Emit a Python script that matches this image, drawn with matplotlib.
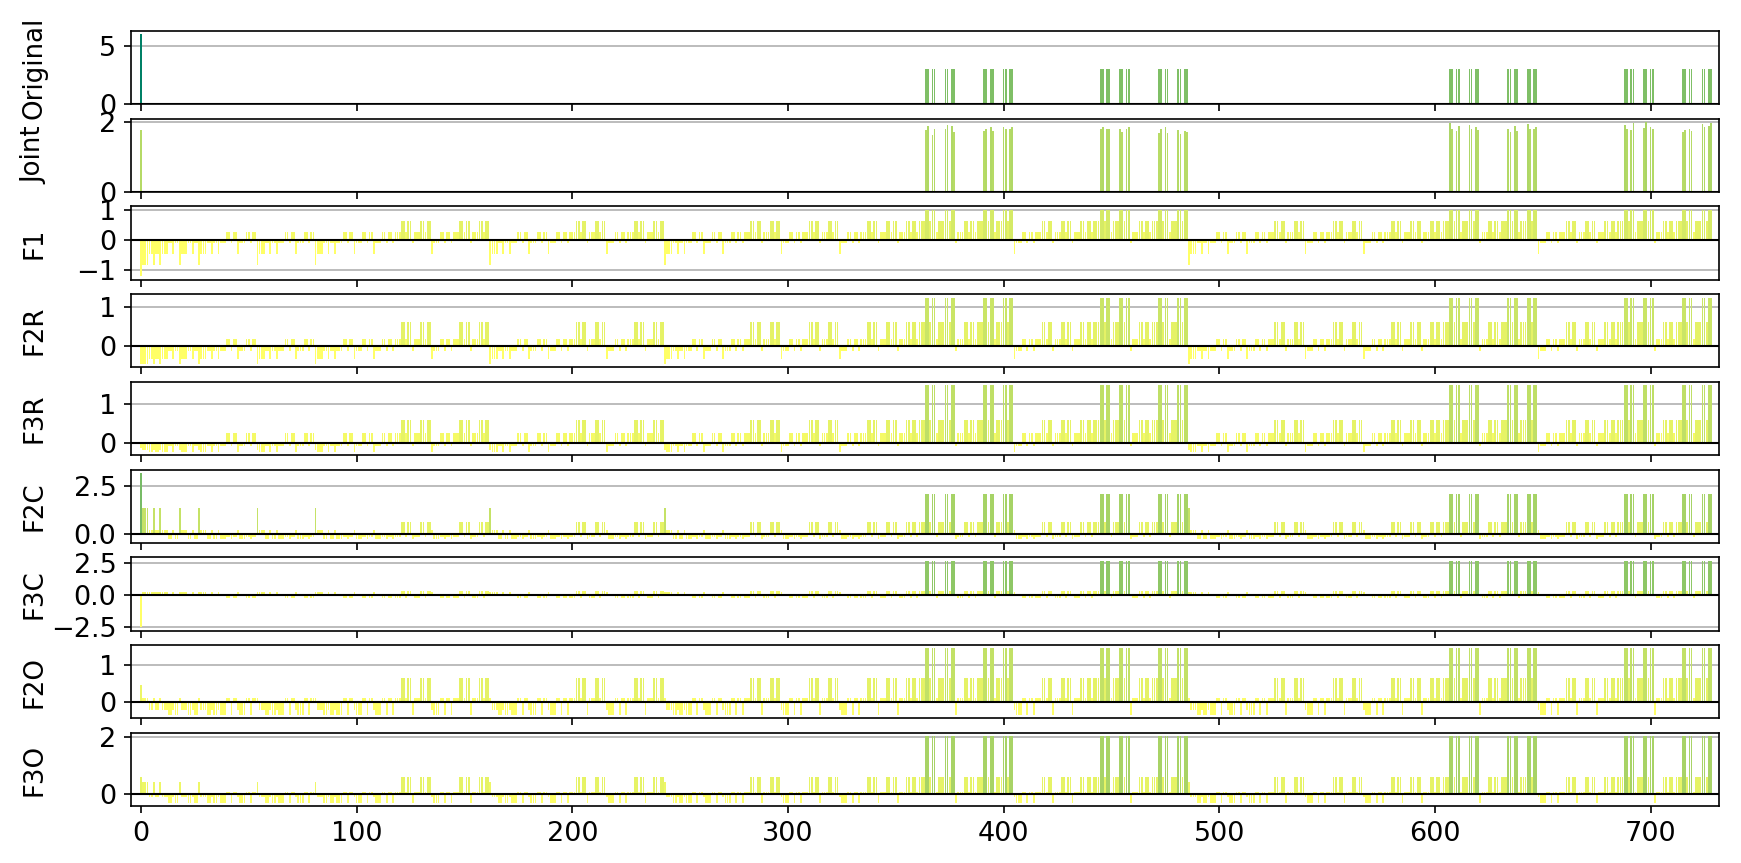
import numpy as np
import matplotlib
matplotlib.use("Agg")
import matplotlib.pyplot as plt
from matplotlib.colors import Normalize

# ---------------------------------------------------------------------------
# Data.
# Every day (0..728) falls in one of 7 bar-height classes (0..6); the class of
# each day, 27 days per row, as read from the repeating spike structure.
DAY_CLASS_ROWS = [
    "011122122122233233122233233",
    "122233233233344344233344344",
    "122233233233344344233344344",
    "122233233233344344233344344",
    "233344344344455455344455455",
    "233344344344455455344455455",
    "122233233233344344233344344",
    "233344344344455455344455455",
    "233344344344455455344455455",
    "122233233233344344233344344",
    "233344344344455455344455455",
    "233344344344455455344455455",
    "233344344344455455344455455",
    "344455455455566566455566566",
    "344455455455566566455566566",
    "233344344344455455344455455",
    "344455455455566566455566566",
    "344455455455566566455566566",
    "122233233233344344233344344",
    "233344344344455455344455455",
    "233344344344455455344455455",
    "233344344344455455344455455",
    "344455455455566566455566566",
    "344455455455566566455566566",
    "233344344344455455344455455",
    "344455455455566566455566566",
    "344455455455566566455566566",
]

# bar height of each class, per panel (class 0 .. class 6)
ORIGINAL_BY_CLASS = [6.0, 0.0, 0.0, 0.0, 0.0, 0.0, 3.0]
F1_BY_CLASS = [-1.20, -0.83, -0.47, -0.10, 0.26, 0.63, 1.00]
F2R_BY_CLASS = [-0.45, -0.45, -0.33, -0.12, 0.20, 0.63, 1.25]
F3R_BY_CLASS = [-0.15, -0.20, -0.24, -0.10, 0.25, 0.60, 1.50]
F2C_BY_CLASS = [3.20, 1.36, 0.20, -0.30, -0.15, 0.60, 2.10]
F3C_BY_CLASS = [-2.50, 0.25, 0.20, -0.05, -0.20, 0.28, 2.67]
F2O_BY_CLASS = [0.44, 0.10, -0.22, -0.35, 0.10, 0.63, 1.43]
F3O_BY_CLASS = [0.60, 0.42, -0.10, -0.30, 0.08, 0.59, 2.04]

# Joint: zero everywhere except day 0 and the class-6 days (in day order)
JOINT_DAY0 = 1.75
JOINT_PEAKS = [
    1.75, 1.86, 1.62, 1.80, 1.78, 1.90, 1.86, 1.70,
    1.73, 1.80, 1.83, 1.73, 1.83, 1.78, 1.78, 1.83,
    1.78, 1.83, 1.80, 1.80, 1.78, 1.70, 1.78, 1.83,
    1.68, 1.80, 1.83, 1.68, 1.76, 1.65, 1.72, 1.70,
    1.95, 1.80, 1.72, 1.88, 1.90, 1.78, 1.85, 1.75,
    1.80, 1.70, 1.86, 1.74, 1.92, 1.80, 1.78, 1.85,
    1.90, 1.80, 1.75, 1.95, 1.82, 1.98, 1.85, 1.78,
    1.70, 1.75, 1.80, 1.72, 1.92, 1.85, 1.88, 1.96,
]

PANEL_NAMES = ["Original", "Joint", "F1", "F2R", "F3R", "F2C", "F3C", "F2O", "F3O"]
# ---------------------------------------------------------------------------

day_class = np.array([int(c) for c in "".join(DAY_CLASS_ROWS)])
days = np.arange(day_class.size)


def by_class(levels):
    return np.asarray(levels, dtype=float)[day_class]


joint = np.zeros(day_class.size)
joint[0] = JOINT_DAY0
joint[day_class == 6] = JOINT_PEAKS

panel_values = [
    by_class(ORIGINAL_BY_CLASS),
    joint,
    by_class(F1_BY_CLASS),
    by_class(F2R_BY_CLASS),
    by_class(F3R_BY_CLASS),
    by_class(F2C_BY_CLASS),
    by_class(F3C_BY_CLASS),
    by_class(F2O_BY_CLASS),
    by_class(F3O_BY_CLASS),
]

W, H, DPI = 1741, 863, 150
plt.rcParams["font.size"] = 12
fig, axes = plt.subplots(len(PANEL_NAMES), 1, sharex=True,
                         figsize=(W / DPI, H / DPI), dpi=DPI)
fig.subplots_adjust(left=131 / W, right=1719 / W, top=1 - 31 / H,
                    bottom=1 - 806 / H, hspace=0.2)

cmap = plt.get_cmap("summer_r")
norm = Normalize(vmin=0, vmax=6)

for ax, name, vals in zip(axes, PANEL_NAMES, panel_values):
    ax.set_axisbelow(True)
    ax.grid(axis="y", color="#b0b0b0", linewidth=0.8)
    ax.bar(days, vals, width=0.8, color=cmap(norm(vals)), linewidth=0)
    ax.axhline(0, color="black", linewidth=1.0)
    ax.set_ylabel(name, fontsize=12.5)
    ax.yaxis.set_label_coords(-0.0526, 0.5)
    ax.tick_params(labelsize=13)

axes[-1].set_xlim(-4.6, 731.7)
axes[-1].set_xticks(np.arange(0, 701, 100))

fig.savefig("out.png", dpi=DPI)
